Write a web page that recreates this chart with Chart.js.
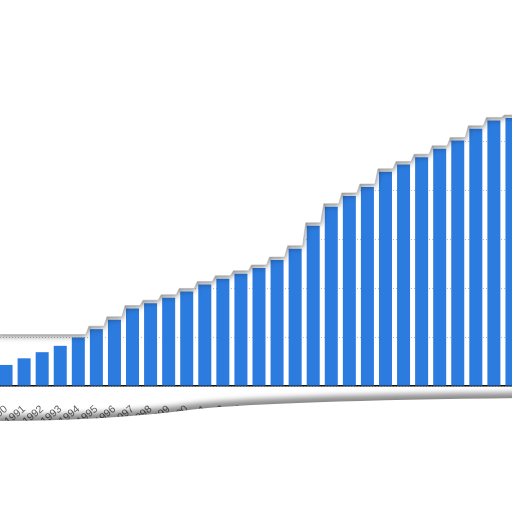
<!DOCTYPE html>
<html lang="en">
<head>
    <meta charset="UTF-8">
    <title>Torn bar chart</title>
    <script src="https://cdn.jsdelivr.net/npm/chart.js"></script>
    <style>
        html, body {
            margin: 0;
            padding: 0;
            background: #fff;
        }
        #wrap {
            position: relative;
            width: 512px;
            height: 512px;
            overflow: hidden;
            background: #fff;
        }
        #chart {
            position: absolute;
            left: -3px;
            top: 0;
        }
    </style>
</head>
<body>
    <div id="wrap">
        <canvas id="chart" width="524" height="512"></canvas>
    </div>

    <script>
        const years = ['1990', '1991', '1992', '1993', '1994', '1995', '1996', '1997', '1998', '1999',
                       '2000', '2001', '2002', '2003', '2004', '2005', '2006', '2007', '2008', '2009',
                       '2010', '2011', '2012', '2013', '2014', '2015', '2016', '2017', '2018'];
        const values = [4.3, 5.65, 6.9, 8.2, 9.9, 11.6, 13.5, 15.8, 16.9, 18.0,
                        19.3, 20.7, 21.9, 22.9, 24.1, 25.7, 28.0, 32.7, 36.6, 38.8,
                        40.6, 43.7, 45.2, 46.7, 48.4, 50.1, 52.5, 54.2, 54.7];
        const yMin = 0;
        const yMax = 70;
        const yStep = 10;
        // the upper tear runs flat along this grid value on the left side
        const tearFloorValue = 10;

        // paper tear above the bars and under the year labels
        const tornEdges = {
            id: 'tornEdges',
            afterDraw(chart) {
                const ctx = chart.ctx;
                const xs = chart.scales.x;
                const ys = chart.scales.y;
                const bars = chart.getDatasetMeta(0).data;
                const half = xs.width / years.length / 2;
                const floorY = ys.getPixelForValue(tearFloorValue) - 2.5;
                const w = chart.width;
                const h = chart.height;

                // top edge: steps just above each bar
                const pts = [];
                bars.forEach((bar, i) => {
                    const top = Math.min(bar.y - 3, floorY);
                    if (i === 0) pts.push([0, top]);
                    pts.push([bar.x - half + 1.5, top]);
                    pts.push([bar.x + half - 1.5, top]);
                });
                pts.push([w, pts[pts.length - 1][1]]);

                ctx.save();
                ctx.beginPath();
                ctx.moveTo(0, 0);
                pts.forEach(p => ctx.lineTo(p[0], p[1]));
                ctx.lineTo(w, 0);
                ctx.closePath();
                ctx.shadowColor = 'rgba(0, 0, 0, 0.55)';
                ctx.shadowBlur = 6;
                ctx.shadowOffsetY = 1.5;
                ctx.fillStyle = '#fff';
                ctx.fill();
                ctx.shadowColor = 'transparent';
                ctx.beginPath();
                pts.forEach((p, i) => i ? ctx.lineTo(p[0], p[1]) : ctx.moveTo(p[0], p[1]));
                ctx.strokeStyle = 'rgba(180, 180, 180, 0.6)';
                ctx.lineWidth = 1;
                ctx.stroke();
                ctx.restore();

                // bottom edge: under the labels, rising to the right
                const base = xs.top;
                const edge = (dy) => {
                    ctx.beginPath();
                    ctx.moveTo(0, base + 35 + dy);
                    ctx.quadraticCurveTo(110, base + 35 + dy, 200, base + 23 + dy);
                    ctx.quadraticCurveTo(280, base + 15 + dy, w, base + 12 + dy);
                };
                ctx.save();
                ctx.filter = 'blur(2.5px)';
                edge(-3);
                ctx.strokeStyle = 'rgba(0, 0, 0, 0.4)';
                ctx.lineWidth = 6;
                ctx.stroke();
                ctx.restore();

                ctx.save();
                edge(0);
                ctx.lineTo(w, h);
                ctx.lineTo(0, h);
                ctx.closePath();
                ctx.shadowColor = 'rgba(0, 0, 0, 0.5)';
                ctx.shadowBlur = 4;
                ctx.shadowOffsetY = -1;
                ctx.fillStyle = '#fff';
                ctx.fill();
                ctx.restore();
            }
        };

        const ctx = document.getElementById('chart').getContext('2d');
        new Chart(ctx, {
            type: 'bar',
            data: {
                labels: years,
                datasets: [{
                    data: values,
                    backgroundColor: '#2c7bde',
                    borderWidth: 0,
                    categoryPercentage: 0.9,
                    barPercentage: 0.8
                }]
            },
            options: {
                responsive: false,
                animation: false,
                layout: { padding: { top: 43, bottom: 86, left: 0, right: 0 } },
                plugins: {
                    legend: { display: false },
                    tooltip: { enabled: false }
                },
                scales: {
                    x: {
                        grid: { display: false },
                        border: { display: true, color: '#111', width: 1.5 },
                        ticks: {
                            color: '#626262',
                            font: { family: 'Arial, "Liberation Sans", sans-serif', size: 10.5 },
                            minRotation: 40,
                            maxRotation: 40,
                            padding: 9,
                            autoSkip: false
                        },
                        afterFit(scale) {
                            scale.height = 40;
                            scale.paddingLeft = 0;
                            scale.paddingRight = 0;
                        }
                    },
                    y: {
                        min: yMin,
                        max: yMax,
                        ticks: { display: false, stepSize: yStep },
                        border: { display: false, dash: [1, 2] },
                        grid: {
                            color: '#bdbdbd',
                            lineWidth: 1,
                            drawTicks: false
                        },
                        afterFit(scale) {
                            scale.width = 0;
                        }
                    }
                }
            },
            plugins: [tornEdges]
        });
    </script>
</body>
</html>
